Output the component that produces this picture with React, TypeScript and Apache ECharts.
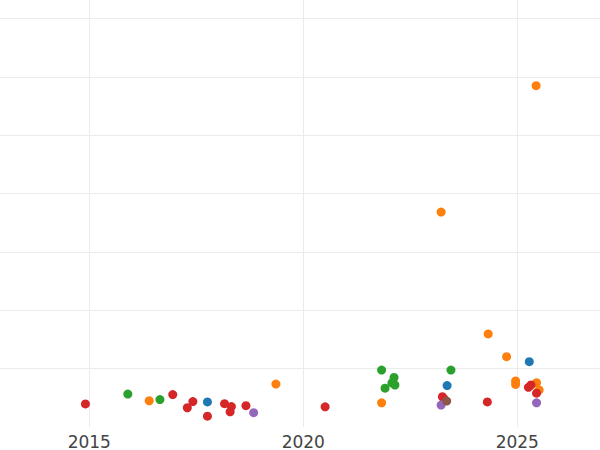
import React, { useEffect, useRef } from "react";
import * as echarts from "echarts";

// Decimal year / value pairs per group (colour order as in the reference)
const blueYears = [2017.76, 2023.36, 2025.28];
const blueValues = [8.6, 14.2, 22.4];

const orangeYears = [2016.40, 2019.36, 2021.83, 2023.22, 2024.32, 2024.75, 2024.96, 2024.96, 2025.44, 2025.45, 2025.51];
const orangeValues = [9.0, 14.7, 8.3, 73.7, 31.9, 24.1, 15.8, 14.6, 117.0, 15.2, 12.7];

const greenYears = [2015.90, 2016.65, 2021.83, 2022.12, 2022.07, 2022.14, 2021.91, 2023.45];
const greenValues = [11.3, 9.4, 19.5, 17.0, 15.1, 14.4, 13.3, 19.5];

const redYears = [2014.91, 2016.95, 2017.42, 2017.29, 2017.76, 2018.16, 2018.32, 2018.29, 2018.66, 2020.51, 2023.25, 2023.29, 2024.30, 2025.26, 2025.32, 2025.45];
const redValues = [7.9, 11.1, 8.7, 6.6, 3.7, 8.0, 7.0, 5.2, 7.3, 6.9, 10.4, 9.6, 8.6, 13.6, 14.4, 11.6];

const purpleYears = [2018.84, 2023.22, 2025.45];
const purpleValues = [4.9, 7.5, 8.3];

const brownYears = [2023.35];
const brownValues = [8.9];

const xTickYears = [2010, 2015, 2020, 2025, 2030];

const zip = (xs: number[], ys: number[]) => xs.map((x, i) => [x, ys[i]]);

const groups = [
  { name: "blue", color: "#1f77b4", xs: blueYears, ys: blueValues },
  { name: "orange", color: "#ff7f0e", xs: orangeYears, ys: orangeValues },
  { name: "green", color: "#2ca02c", xs: greenYears, ys: greenValues },
  { name: "red", color: "#d62728", xs: redYears, ys: redValues },
  { name: "purple", color: "#9467bd", xs: purpleYears, ys: purpleValues },
  { name: "brown", color: "#8c564b", xs: brownYears, ys: brownValues },
];

export default function App() {
  const ref = useRef<HTMLDivElement>(null);
  useEffect(() => {
    if (!ref.current) return;
    const chart = echarts.init(ref.current, undefined, { renderer: "svg" });
    chart.setOption({
      animation: false,
      backgroundColor: "#ffffff",
      grid: {
        left: -124.7,
        right: -131.3,
        top: -39.7,
        bottom: 23,
        containLabel: false,
        outerBoundsMode: "none",
      },
      xAxis: {
        type: "value",
        min: xTickYears[0],
        max: xTickYears[xTickYears.length - 1],
        interval: 5,
        axisLine: { show: false },
        axisTick: { show: false },
        splitLine: { show: true, lineStyle: { color: "#ebebeb", width: 1 } },
        axisLabel: {
          show: true,
          showMinLabel: false,
          showMaxLabel: false,
          margin: 6,
          color: "#444444",
          fontSize: 17,
          fontFamily: "DejaVu Sans",
          formatter: (v: number) => String(v),
        },
      },
      yAxis: {
        type: "value",
        min: 0,
        max: 160,
        interval: 20,
        axisLine: { show: false },
        axisTick: { show: false },
        axisLabel: { show: false },
        splitLine: { show: true, showMinLine: false, showMaxLine: false, lineStyle: { color: "#ebebeb", width: 1 } },
      },
      series: groups.map((g) => ({
        name: g.name,
        type: "scatter",
        symbol: "circle",
        symbolSize: 9,
        itemStyle: { color: g.color, opacity: 1 },
        data: zip(g.xs, g.ys),
      })),
    });
    return () => chart.dispose();
  }, []);
  return (
    <div
      ref={ref}
      style={{ position: "fixed", left: 0, top: 0, width: 600, height: 450 }}
    />
  );
}
